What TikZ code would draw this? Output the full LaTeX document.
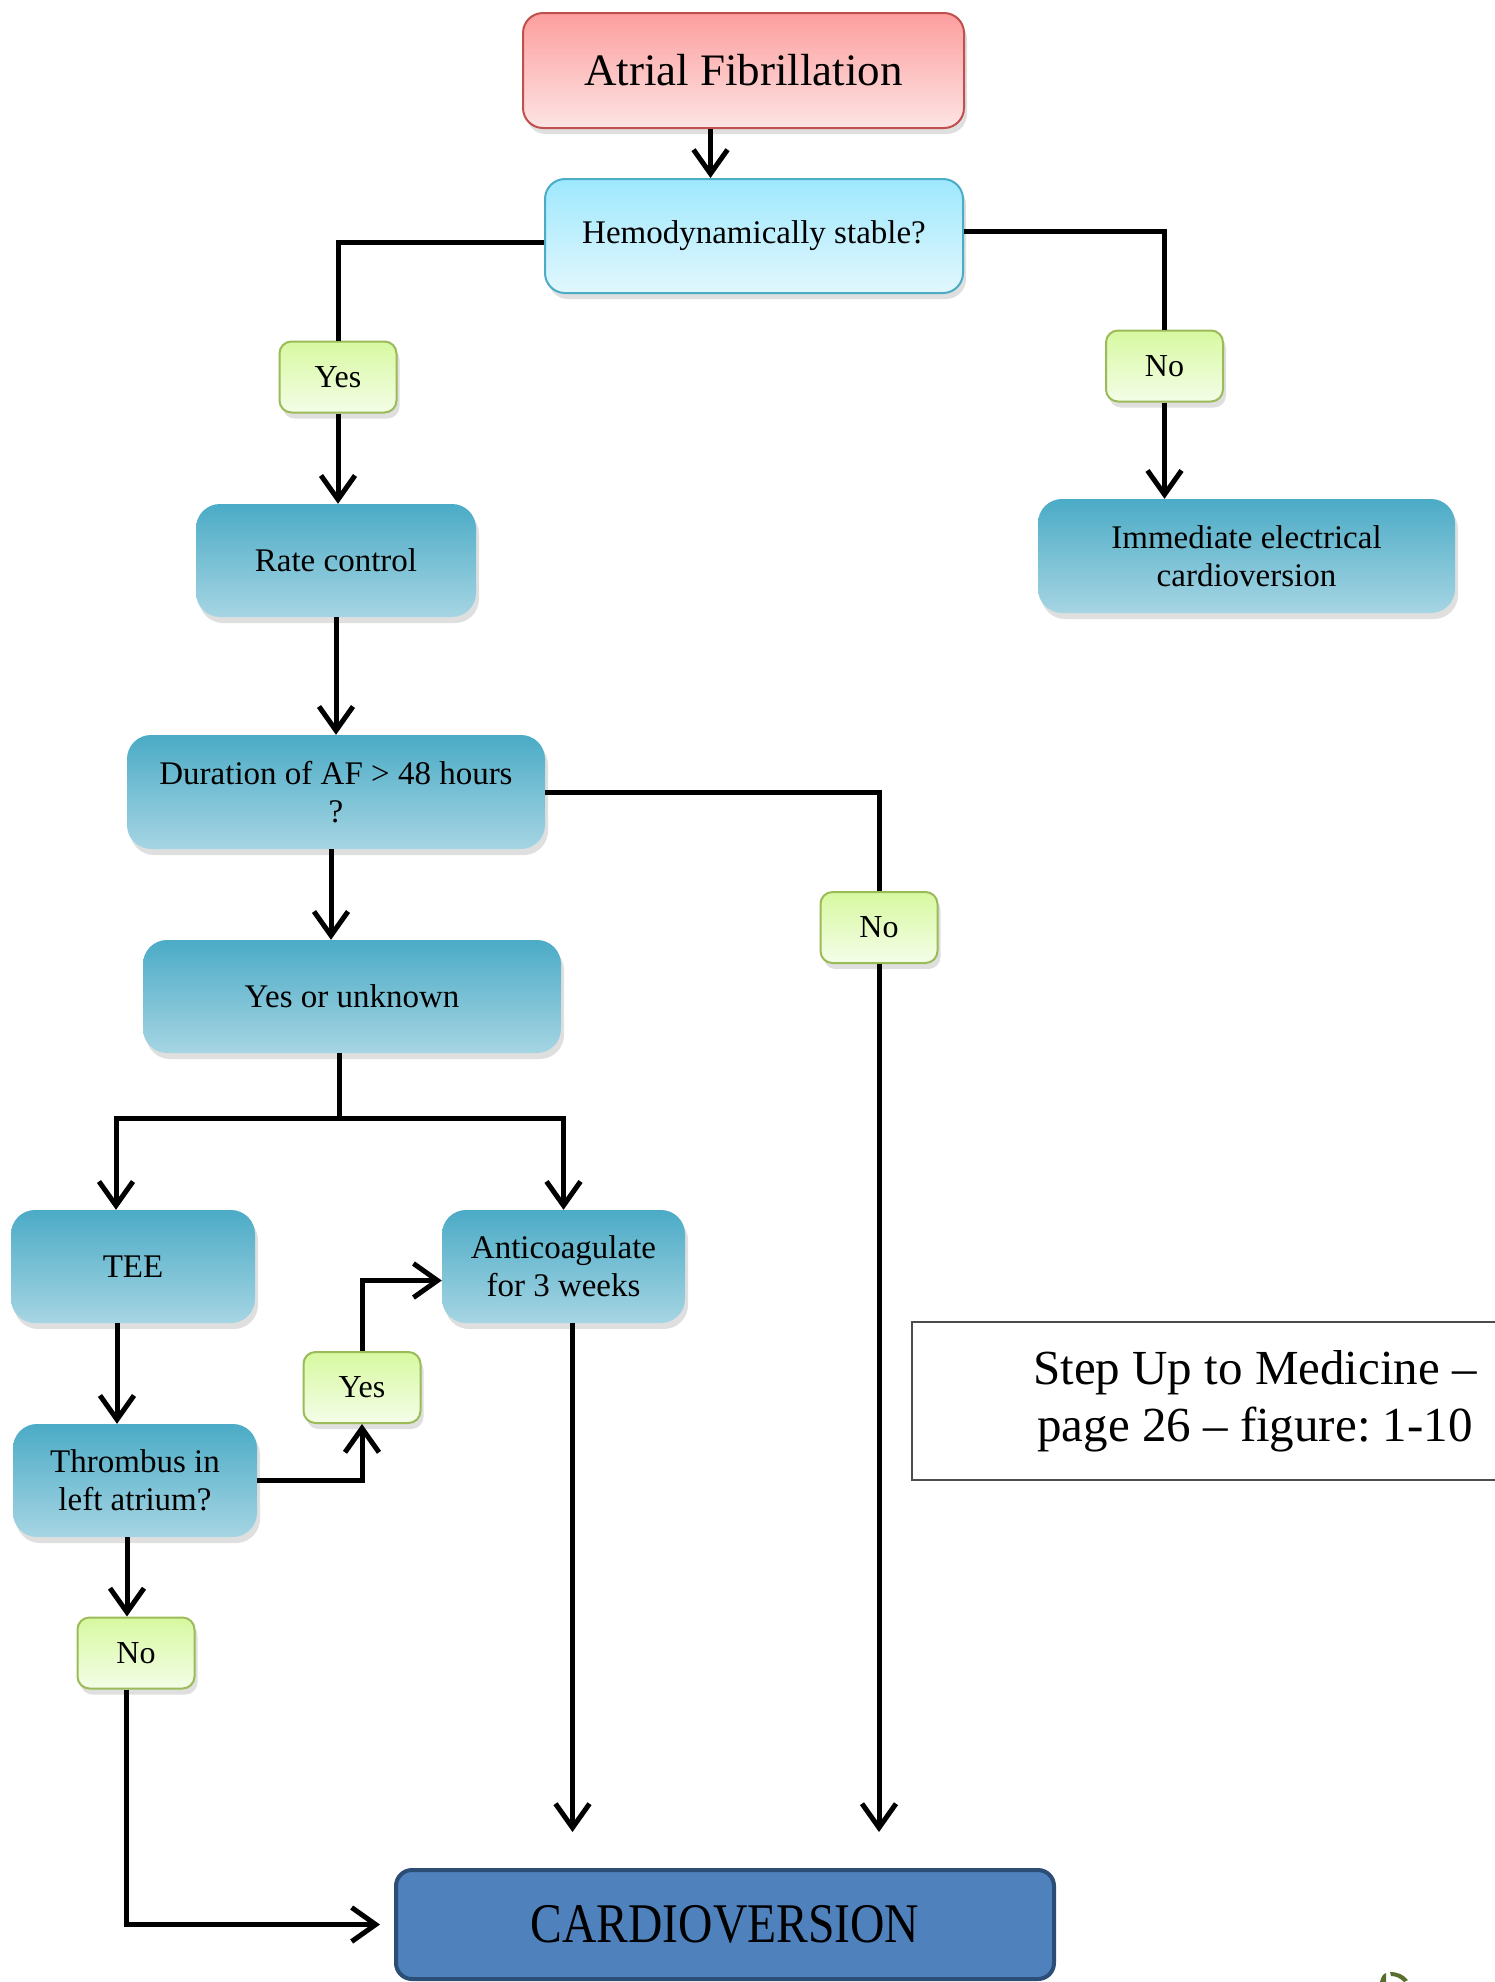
\documentclass[tikz,border=0pt]{standalone}
\usepackage{fontspec}
\setmainfont{Liberation Serif}
\usepackage{graphicx}
\usepackage{xcolor}
\usetikzlibrary{arrows.meta,shadows}
\frenchspacing

\definecolor{steptop}{RGB}{75,171,198}
\definecolor{stepbottom}{RGB}{166,213,227}
\definecolor{answertop}{RGB}{215,249,160}
\definecolor{answerbottom}{RGB}{244,253,232}
\definecolor{answerborder}{RGB}{155,187,89}
\definecolor{starttop}{RGB}{253,158,158}
\definecolor{startbottom}{RGB}{253,228,228}
\definecolor{startborder}{RGB}{192,80,77}
\definecolor{asktop}{RGB}{158,232,253}
\definecolor{askbottom}{RGB}{226,247,253}
\definecolor{askborder}{RGB}{75,172,198}
\definecolor{endfill}{RGB}{79,129,189}
\definecolor{endborder}{RGB}{44,77,117}
\definecolor{leafgreen}{RGB}{88,110,45}

\begin{document}
\begin{tikzpicture}[x=1pt,y=-1pt]
	 \tikzstyle{shade}=[drop shadow={shadow xshift=3pt,shadow yshift=-6pt,opacity=0.25}]
	 \tikzstyle{stepbox}=[rectangle,rounded corners=24pt,top color=steptop,bottom color=stepbottom,align=center,inner sep=0pt,font=\fontsize{33}{38}\selectfont,shade]
	 \tikzstyle{answer}=[rectangle,rounded corners=12pt,draw=answerborder,line width=2pt,top color=answertop,bottom color=answerbottom,minimum width=117pt,minimum height=71pt,inner sep=0pt,font=\fontsize{32}{38}\selectfont,shade]
	 \tikzstyle{connector}=[draw,line width=5pt,black]
	 \tikzstyle{arrowline}=[connector,-{Straight Barb[length=24pt,width=34pt]}]

	 \useasboundingbox (0,0) rectangle (1495,1982);

	 \node[rectangle,rounded corners=20pt,draw=startborder,line width=2pt,top color=starttop,bottom color=startbottom,minimum width=441pt,minimum height=115pt,font=\fontsize{45}{54}\selectfont,shade] (af) at (743.5,70.5) {Atrial Fibrillation};
	 \node[rectangle,rounded corners=20pt,draw=askborder,line width=2pt,top color=asktop,bottom color=askbottom,minimum width=418pt,minimum height=114pt,font=\fontsize{33}{38}\selectfont,shade] (hemo) at (754,236) {Hemodynamically stable?};

	 \node[answer] (yes1) at (338,377) {Yes};
	 \node[answer] (no1) at (1164.5,366) {No};
	 \node[stepbox,minimum width=280pt,minimum height=113pt] (rate) at (336,560.5) {Rate control};
	 \node[stepbox,minimum width=417pt,minimum height=114pt] (immed) at (1246.5,556) {Immediate electrical\\cardioversion};
	 \node[stepbox,minimum width=418pt,minimum height=114pt] (dur) at (336,792) {Duration of AF > 48 hours\\?};
	 \node[answer] (no2) at (879,927.5) {No};
	 \node[stepbox,minimum width=418pt,minimum height=113pt] (yesun) at (352,996.5) {Yes or unknown};
	 \node[stepbox,minimum width=244pt,minimum height=113pt] (tee) at (133,1266.5) {TEE};
	 \node[stepbox,minimum width=243pt,minimum height=113pt] (anti) at (563.5,1266.5) {Anticoagulate\\for 3 weeks};
	 \node[stepbox,minimum width=244pt,minimum height=113pt] (thromb) at (135,1480.5) {Thrombus in\\left atrium?};
	 \node[answer] (yes2) at (362,1387.5) {Yes};
	 \node[answer] (no3) at (136,1653) {No};
	 \node[rectangle,rounded corners=16pt,draw=endborder,line width=4pt,fill=endfill,minimum width=658pt,minimum height=109pt,font=\fontsize{56}{62}\selectfont] (cardio) at (725,1924.5) {\scalebox{0.85}[1]{CARDIOVERSION}};

	 \node[draw=black!70,line width=1.5pt,minimum width=686pt,minimum height=158pt,align=center,font=\fontsize{49}{57}\selectfont] (source) at (1255,1401) {Step Up to Medicine –\\page 26 – figure: 1-10};

	 % connectors
	 \coordinate (afout) at ([xshift=-33pt]af.south);
	 \draw[arrowline] (afout) -- (afout |- hemo.north);
	 \draw[connector] ([yshift=-6pt]hemo.west) -| (yes1.north);
	 \draw[connector] ([yshift=5pt]hemo.east) -| (no1.north);
	 \draw[arrowline] (yes1.south) -- (yes1.south |- rate.north);
	 \draw[arrowline] (no1.south) -- (no1.south |- immed.north);
	 \draw[arrowline] (rate.south) -- (rate.south |- dur.north);
	 \draw[connector] (dur.east) -| (no2.north);
	 \draw[arrowline,shorten >=36pt] (no2.south) -- (no2.south |- cardio.north);
	 \coordinate (durout) at ([xshift=-5pt]dur.south);
	 \draw[arrowline] (durout) -- (durout |- yesun.north);
	 \coordinate (split) at (339,1118);
	 \draw[connector] (yesun.south -| split) -- (split);
	 \draw[arrowline] (split) -| ([xshift=-17pt]tee.north);
	 \draw[arrowline] (split) -| (anti.north);
	 \coordinate (teeout) at ([xshift=-16pt]tee.south);
	 \draw[arrowline] (teeout) -- (teeout |- thromb.north);
	 \draw[arrowline] (thromb.east) -| (yes2.south);
	 \draw[arrowline] (yes2.north) |- ([yshift=-14pt]anti.west);
	 \coordinate (thrombout) at ([xshift=-8pt]thromb.south);
	 \draw[arrowline] (thrombout) -- (thrombout |- no3.north);
	 \draw[arrowline,shorten >=14pt] ([xshift=-10pt]no3.south) |- (cardio.west);
	 \coordinate (antiout) at ([xshift=9pt]anti.south);
	 \draw[arrowline,shorten >=36pt] (antiout) -- (antiout |- cardio.north);

	 % corner of a logo
	 \fill[leafgreen] (1380,1982) .. controls (1381,1977) and (1383,1974) .. (1386,1973) -- (1386,1982) -- cycle;
	 \fill[leafgreen] (1390,1972) .. controls (1398,1972) and (1404,1975) .. (1408,1980) -- (1404,1982) .. controls (1400,1978) and (1396,1976) .. (1391,1976) -- cycle;
\end{tikzpicture}
\end{document}
